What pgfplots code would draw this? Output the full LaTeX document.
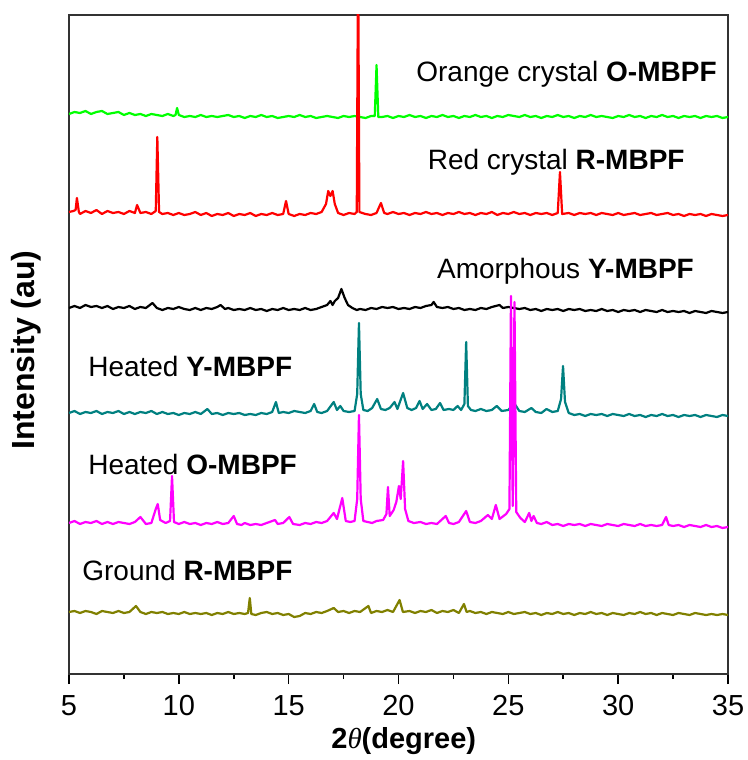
\documentclass[border=0pt]{standalone}
\usepackage{pgfplots}
\pgfplotsset{compat=1.18}
\usepackage{fontspec}
\setmainfont{Liberation Sans}
\newfontfamily\greekserif{Liberation Serif}
\definecolor{cgreen}{RGB}{0,255,0}
\definecolor{cred}{RGB}{255,0,0}
\definecolor{cteal}{RGB}{0,128,128}
\definecolor{cmag}{RGB}{255,0,255}
\definecolor{colive}{RGB}{128,128,0}
\definecolor{frame}{RGB}{51,51,51}

\begin{document}
\begin{tikzpicture}
\useasboundingbox (-34.5pt,-43pt) rectangle (339.5pt,337pt);
\begin{axis}[
    scale only axis,
    width=329.5pt, height=329.5pt,
    xmin=5, xmax=35, ymin=0, ymax=659,
    axis line style={frame, line width=1pt},
    xtick={5,10,...,35},
    minor x tick num=1,
    ytick=\empty,
    xtick pos=bottom,
    tick align=outside,
    major tick length=5pt, minor tick length=2.5pt,
    tick style={black, line width=0.8pt},
    /pgf/number format/assume math mode=true,
    xticklabel style={font=\fontsize{14.5}{16}\selectfont, anchor=base, inner sep=0pt, yshift=-15.5pt},
    xlabel={\textbf{2}{\greekserif\itshape θ}\textbf{(degree)}},
    xlabel style={font=\fontsize{14.5}{17}\selectfont, at={(axis description cs:0.508,-0.1123)}, anchor=base, inner sep=0pt},
    ylabel={\textbf{Intensity (au)}},
    ylabel style={font=\fontsize{16}{18}\selectfont, at={(axis description cs:-0.0516,0.4917)}, anchor=base, inner sep=0pt},
    every axis plot/.append style={line width=1.1pt, line join=round},
    clip mode=individual,
]
% Orange crystal O-MBPF
\addplot[cgreen] coordinates {
(5,560)(5.25,562)(5.5,561)(5.75,563)(6,560)(6.25,562)(6.5,563)(6.75,560)(7,561)(7.25,562)(7.5,559)(7.75,561)
(8,559)(8.25,560)(8.5,558)(8.75,560)(9,559)(9.25,558)(9.5,560)(9.75,558)(9.85,559)(9.92,566)(10,559)
(10.25,557)(10.5,558)(10.75,557)(11,559)(11.25,557)(11.5,558)(11.75,557)(12,558)(12.25,559)(12.5,557)(12.75,558)
(13,556)(13.25,558)(13.5,557)(13.75,559)(14,557)(14.25,558)(14.5,556)(14.75,557)(15,558)(15.25,557)(15.5,559)(15.75,557)
(16,558)(16.25,556)(16.5,557)(16.75,558)(17,557)(17.25,556)(17.5,558)(17.75,557)(18,558)(18.25,557)(18.5,556)(18.75,558)
(18.92,558)(19.0,609)(19.08,557)(19.25,557)(19.5,558)(19.75,556)(20,558)(20.25,557)(20.5,559)(20.75,557)
(21,558)(21.25,556)(21.5,558)(21.75,557)(22,559)(22.25,557)(22.5,558)(22.75,556)(23,558)(23.25,557)(23.5,559)(23.75,557)
(24,558)(24.25,556)(24.5,558)(24.75,557)(25,559)(25.25,558)(25.5,557)(25.75,559)(26,557)(26.25,558)(26.5,556)(26.75,558)
(27,557)(27.25,559)(27.5,557)(27.75,558)(28,556)(28.25,558)(28.5,557)(28.75,559)(29,557)(29.25,558)(29.5,557)(29.75,556)
(30,558)(30.25,557)(30.5,559)(30.75,557)(31,558)(31.25,556)(31.5,558)(31.75,557)(32,559)(32.25,557)(32.5,558)(32.75,556)
(33,558)(33.25,557)(33.5,558)(33.75,556)(34,558)(34.25,557)(34.5,558)(34.75,556)(35,557)};
% Red crystal R-MBPF
\addplot[cred] coordinates {
(5,462)(5.2,463)(5.3,464)(5.36,476)(5.45,462)(5.5,460)(5.75,463)(6,461)(6.25,464)(6.5,460)(6.75,463)(7,461)
(7.25,462)(7.5,460)(7.75,463)(8,461)(8.1,469)(8.25,461)(8.5,462)(8.75,460)(8.95,463)(9.02,537)(9.1,462)(9.25,460)
(9.5,461)(9.75,459)(10,461)(10.25,459)(10.5,460)(10.75,462)(11,459)(11.25,461)(11.5,458)(11.75,460)(12,459)(12.25,461)
(12.5,458)(12.75,460)(13,459)(13.25,461)(13.5,458)(13.75,460)(14,459)(14.25,461)(14.5,459)(14.75,460)(14.88,473)(15.0,460)
(15.25,458)(15.5,460)(15.75,459)(16,461)(16.25,460)(16.5,462)(16.7,470)(16.8,483)(16.9,478)(17.0,483)(17.1,470)(17.25,461)
(17.5,459)(17.75,461)(18.0,460)(18.1,462)(18.16,720)(18.22,462)(18.35,461)(18.5,460)(18.75,459)(19.0,461)(19.2,471)(19.35,461)
(19.5,460)(19.75,462)(20,460)(20.25,461)(20.5,459)(20.75,461)(21,460)(21.25,462)(21.5,460)(21.75,461)(22,459)(22.25,461)
(22.5,460)(22.75,462)(23,460)(23.25,461)(23.5,459)(23.75,461)(24,460)(24.25,462)(24.5,459)(24.75,461)(25,460)(25.25,462)
(25.5,460)(25.75,461)(26,459)(26.25,461)(26.5,460)(26.75,461)(27,459)(27.25,461)(27.35,502)(27.45,460)(27.75,461)(28,459)
(28.25,461)(28.5,460)(28.75,461)(29,459)(29.25,461)(29.5,460)(29.75,459)(30,461)(30.25,459)(30.5,460)(30.75,461)(31,459)
(31.25,460)(31.5,461)(31.75,459)(32,460)(32.25,461)(32.5,459)(32.75,460)(33,458)(33.25,460)(33.5,459)(33.75,460)(34,458)
(34.25,460)(34.5,459)(34.75,458)(35,459)};
% Amorphous Y-MBPF
\addplot[black] coordinates {
(5,366)(5.25,368)(5.5,366)(5.75,369)(6,367)(6.25,368)(6.5,366)(6.75,368)(7,365)(7.25,367)(7.5,366)(7.75,368)
(8,365)(8.25,367)(8.5,366)(8.8,371)(9,366)(9.25,364)(9.5,366)(9.75,365)(10,367)(10.25,365)(10.5,364)(10.75,366)
(11,364)(11.25,366)(11.5,365)(11.75,367)(11.9,369)(12.1,365)(12.25,366)(12.5,364)(12.75,365)(13,364)(13.25,366)(13.5,364)
(13.75,365)(14,363)(14.25,365)(14.5,364)(14.75,366)(15,364)(15.25,365)(15.5,364)(15.75,366)(16,364)(16.25,365)(16.5,367)
(16.75,369)(16.9,373)(17.0,369)(17.1,373)(17.25,376)(17.4,385)(17.55,376)(17.7,369)(17.9,366)(18.1,364)(18.25,365)(18.5,364)
(18.75,366)(19,365)(19.25,367)(19.5,366)(19.75,367)(20,365)(20.25,366)(20.5,365)(20.75,367)(21,366)(21.25,368)(21.5,369)
(21.6,372)(21.75,367)(22,366)(22.25,367)(22.5,365)(22.75,366)(23,364)(23.25,365)(23.5,364)(23.75,366)(24,365)(24.25,367)
(24.6,369)(24.75,366)(25,367)(25.25,366)(25.5,365)(25.75,366)(26,364)(26.25,365)(26.5,363)(26.75,365)(27,364)(27.25,365)
(27.5,363)(27.75,365)(28,364)(28.25,365)(28.5,363)(28.75,364)(29,363)(29.25,365)(29.5,363)(29.75,364)(30,362)(30.25,364)
(30.5,363)(30.75,364)(31,362)(31.25,364)(31.5,363)(31.75,362)(32,364)(32.25,362)(32.5,363)(32.75,362)(33,363)(33.25,361)
(33.5,363)(33.75,362)(34,361)(34.25,363)(34.5,362)(34.75,361)(35,362)};
% Heated Y-MBPF
\addplot[cteal] coordinates {
(5,261)(5.25,263)(5.5,260)(5.75,262)(6,261)(6.25,263)(6.5,260)(6.75,262)(7,261)(7.25,263)(7.5,260)(7.75,262)
(8,260)(8.25,262)(8.5,261)(8.75,263)(9,260)(9.25,262)(9.5,260)(9.75,261)(10,259)(10.25,261)(10.5,260)(10.75,262)
(11,260)(11.3,265)(11.5,260)(11.75,261)(12,259)(12.25,261)(12.5,260)(12.75,261)(13,259)(13.25,260)(13.5,259)(13.75,261)
(14,260)(14.25,262)(14.42,272)(14.55,261)(14.75,262)(15,261)(15.25,263)(15.5,262)(15.75,261)(16,263)(16.16,270)(16.3,262)
(16.5,261)(16.75,263)(17.05,272)(17.2,264)(17.35,268)(17.5,263)(17.75,262)(18.0,263)(18.12,280)(18.2,351)(18.28,280)(18.4,264)
(18.6,263)(18.8,266)(19.03,275)(19.2,265)(19.4,264)(19.6,266)(19.82,272)(19.95,265)(20.21,281)(20.4,266)(20.6,264)(20.8,266)
(20.96,273)(21.1,265)(21.3,270)(21.5,264)(21.7,265)(21.89,271)(22.05,264)(22.3,265)(22.5,264)(22.69,268)(22.85,264)(23.0,270)
(23.08,332)(23.16,268)(23.3,264)(23.5,263)(23.75,265)(24.0,263)(24.25,264)(24.47,268)(24.7,263)(25.0,264)(25.26,271)(25.5,263)
(25.75,262)(26.05,266)(26.25,262)(26.5,261)(26.74,265)(27.0,262)(27.25,263)(27.4,275)(27.49,308)(27.58,272)(27.75,261)(28,259)
(28.25,260)(28.5,258)(28.75,260)(29,259)(29.25,260)(29.5,258)(29.75,260)(30,259)(30.25,258)(30.5,260)(30.75,258)(31,259)
(31.25,257)(31.5,259)(31.75,258)(32,260)(32.25,258)(32.5,259)(32.75,257)(33,259)(33.25,258)(33.5,259)(33.75,257)(34,259)
(34.25,258)(34.5,257)(34.75,259)(35,258)};
% Heated O-MBPF
\addplot[cmag] coordinates {
(5,151)(5.25,153)(5.5,150)(5.75,152)(6,151)(6.25,153)(6.5,150)(6.75,152)(7,150)(7.25,152)(7.5,151)(7.75,150)
(8,152)(8.25,157)(8.5,150)(8.75,151)(8.95,165)(9.04,170)(9.15,154)(9.4,151)(9.6,153)(9.69,198)(9.78,152)(10,150)
(10.25,152)(10.5,150)(10.75,151)(11,149)(11.25,151)(11.5,150)(11.75,152)(12,150)(12.25,151)(12.5,158)(12.65,150)(12.85,149)
(13,151)(13.25,149)(13.5,150)(13.75,149)(14,151)(14.38,154)(14.5,150)(14.75,151)(15.03,157)(15.2,150)(15.5,149)(15.75,151)
(16,150)(16.25,152)(16.5,151)(16.75,153)(17.05,161)(17.2,155)(17.44,176)(17.6,153)(17.8,152)(18.0,153)(18.12,175)(18.2,259)
(18.28,175)(18.4,153)(18.6,152)(18.8,151)(19.0,153)(19.3,154)(19.45,160)(19.52,187)(19.6,158)(19.78,164)(19.9,172)(20.02,188)
(20.1,175)(20.21,213)(20.3,165)(20.45,153)(20.7,151)(21.0,152)(21.25,150)(21.5,151)(21.75,150)(22.15,158)(22.3,151)(22.5,150)
(22.75,152)(23.08,163)(23.25,152)(23.5,151)(23.75,153)(24.07,159)(24.25,155)(24.43,169)(24.6,155)(24.9,160)(25.05,165)(25.12,378)
(25.2,168)(25.28,372)(25.36,162)(25.55,156)(25.75,152)(25.95,161)(26.05,153)(26.15,158)(26.3,151)(26.5,150)(26.75,152)(27,149)
(27.25,150)(27.5,148)(27.75,150)(28,149)(28.25,150)(28.5,148)(28.75,150)(29,149)(29.25,148)(29.5,150)(29.75,149)(30,148)
(30.25,150)(30.5,149)(30.75,148)(31,150)(31.25,148)(31.5,149)(31.75,148)(32,149)(32.18,157)(32.3,149)(32.5,148)(32.75,149)
(33,147)(33.25,149)(33.5,148)(33.75,147)(34,149)(34.25,147)(34.5,148)(34.75,146)(35,147)};
% Ground R-MBPF
\addplot[colive] coordinates {
(5,62)(5.25,63)(5.5,61)(5.75,63)(6,62)(6.25,60)(6.5,63)(6.75,62)(7,61)(7.25,63)(7.5,61)(7.75,62)
(8.05,68)(8.25,62)(8.5,60)(8.75,62)(9,61)(9.25,62)(9.5,60)(9.75,61)(10,60)(10.25,62)(10.5,60)(10.75,61)
(11,60)(11.25,61)(11.5,59)(11.75,61)(12,60)(12.25,62)(12.5,60)(12.75,61)(13,60)(13.15,61)(13.23,76)(13.3,60)
(13.5,59)(13.75,61)(14,62)(14.25,60)(14.5,61)(14.75,59)(15,60)(15.25,57)(15.5,58)(15.75,61)(16,60)(16.25,62)
(16.5,61)(16.75,63)(17.05,66)(17.25,62)(17.5,63)(17.75,61)(18,63)(18.25,62)(18.63,68)(18.75,61)(19,63)(19.25,62)
(19.5,64)(19.75,62)(20.05,74)(20.2,62)(20.5,63)(20.75,61)(21,63)(21.25,62)(21.5,64)(21.75,61)(22,63)(22.25,62)
(22.5,64)(22.75,61)(22.98,70)(23.1,62)(23.25,63)(23.5,61)(23.75,62)(24,60)(24.25,62)(24.5,61)(24.75,60)(25,62)
(25.25,60)(25.5,61)(25.75,62)(26,60)(26.25,61)(26.5,59)(26.75,61)(27,60)(27.25,62)(27.5,60)(27.75,61)(28,59)
(28.25,61)(28.5,60)(28.75,62)(29,60)(29.25,61)(29.5,59)(29.75,61)(30,60)(30.25,59)(30.5,61)(30.75,60)(31,62)
(31.25,60)(31.5,61)(31.75,59)(32,61)(32.25,60)(32.5,59)(32.75,61)(33,60)(33.25,59)(33.5,61)(33.75,60)(34,59)
(34.25,60)(34.5,59)(34.75,60)(35,59)};

\begin{scope}[every node/.style={font=\fontsize{14}{16}\selectfont, inner sep=0pt}]
\node[anchor=base east] at (axis cs:34.50,592) {Orange crystal \textbf{O-MBPF}};
\node[anchor=base east] at (axis cs:33.04,504) {Red crystal \textbf{R-MBPF}};
\node[anchor=base] at (axis cs:27.60,395) {Amorphous \textbf{Y-MBPF}};
\node[anchor=base west] at (axis cs:5.86,297) {Heated \textbf{Y-MBPF}};
\node[anchor=base west] at (axis cs:5.86,199) {Heated \textbf{O-MBPF}};
\node[anchor=base west] at (axis cs:5.59,94) {Ground \textbf{R-MBPF}};
\end{scope}
\end{axis}
\end{tikzpicture}
\end{document}
